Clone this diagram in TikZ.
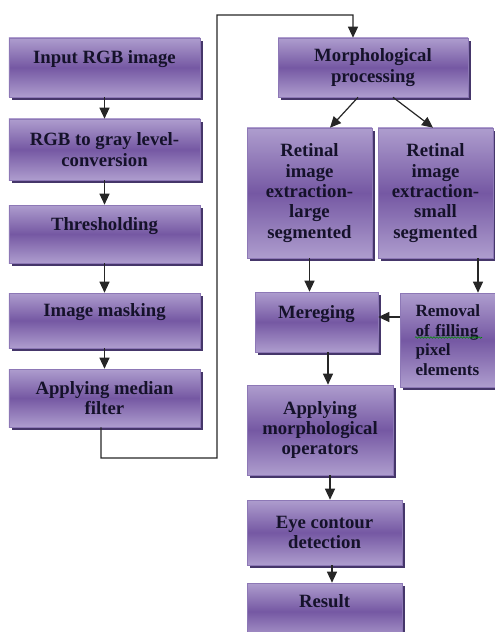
\documentclass[tikz,border=0pt]{standalone}
\usepackage{fontspec}
\setmainfont{Liberation Serif}
\usetikzlibrary{arrows.meta,shadows,decorations.pathmorphing}
\definecolor{plight}{HTML}{AE9DCE}
\definecolor{pdark}{HTML}{7558A3}
\definecolor{pshadow}{HTML}{45366A}
\definecolor{pborder}{HTML}{8D78B6}
\definecolor{txtc}{HTML}{15122A}
\begin{document}
\begin{tikzpicture}[x=1bp,y=-1bp,
  box/.style={rectangle, draw=pborder, line width=0.6bp,
    top color=plight, bottom color=plight, middle color=pdark,
    drop shadow={shadow xshift=3bp, shadow yshift=-3bp, fill=pshadow, opacity=1},
    font=\rmfamily\fontsize{18.8}{20.5}\selectfont\bfseries, text=txtc, align=center, inner sep=0pt},
  smallbox/.style={box, font=\rmfamily\fontsize{17.2}{19.5}\selectfont\bfseries, align=left, text width=66bp},
  arr/.style={draw=black!85, line width=1.2bp, -{Triangle[width=10bp,length=11bp]}},
]
\useasboundingbox (0,0) rectangle (495,632);

% left column
\node[box, minimum width=191bp, minimum height=59bp] (inp) at (104.5,67.5) {Input RGB image\\\mbox{}};
\node[box, minimum width=191bp, minimum height=61bp] (gray) at (104.5,149.5) {RGB to gray level-\\conversion};
\node[box, minimum width=191bp, minimum height=58bp] (thr) at (104.5,234) {Thresholding\\\mbox{}};
\node[box, minimum width=191bp, minimum height=55bp] (mask) at (104.5,320.5) {Image masking\\\mbox{}};
\node[box, minimum width=191bp, minimum height=58bp] (med) at (104.5,398) {Applying median\\filter};

% right part
\node[box, minimum width=190bp, minimum height=59bp] (morph) at (373,67.5) {Morphological\\processing};
\node[box, minimum width=125bp, minimum height=130bp] (large) at (309.5,193) {Retinal\\image\\extraction-\\large\\segmented};
\node[box, minimum width=115bp, minimum height=130bp] (small) at (435.5,193) {Retinal\\image\\extraction-\\small\\segmented};
\node[box, minimum width=123bp, minimum height=60bp] (merge) at (316.5,322) {Mereging\\\mbox{}};
\node[smallbox, minimum width=97bp, minimum height=94bp] (rem) at (448.5,340) {Removal\\of filling\\pixel\\elements};
\node[box, minimum width=146bp, minimum height=90bp] (apply) at (320,430) {Applying\\morphological\\operators};
\node[box, minimum width=155bp, minimum height=65bp] (eye) at (324.5,532.5) {Eye contour\\detection};
\node[box, minimum width=155bp, minimum height=57bp] (res) at (324.5,611.5) {Result\\\mbox{}};

% spell-check squiggle under "of filling"
\draw[green!55!black, line width=0.6bp, decorate, decoration={snake, amplitude=0.8bp, segment length=3bp}]
  ([xshift=-33.5bp,yshift=2.5bp]rem.center) -- ([xshift=33.5bp,yshift=2.5bp]rem.center);

% connectors
\draw[arr] (inp.south) -- (gray.north);
\draw[arr] (gray.south) -- (thr.north);
\draw[arr] (thr.south) -- (mask.north);
\draw[arr] (mask.south) -- (med.north);

\coordinate (c1) at (101,458);
\coordinate (c2) at (217,458);
\coordinate (c3) at (217,15);
\coordinate (c4) at (353,15);
\draw[arr] ([xshift=-3.5bp]med.south) -- (c1) -- (c2) -- (c3) -- (c4) -- ([xshift=-20bp]morph.north);

\draw[arr] ([xshift=-15bp]morph.south) -- ([xshift=20.5bp]large.north);
\draw[arr] ([xshift=20bp]morph.south) -- ([xshift=-2.5bp]small.north);
\draw[arr] (large.south) -- (large.south |- merge.north);
\draw[arr] ([xshift=42.5bp]small.south) -- ([xshift=42.5bp]small.south |- rem.north);
\draw[arr] ([yshift=23bp]rem.west) -- ([yshift=23bp]rem.west -| merge.east);
\draw[arr] ([xshift=11.5bp]merge.south) -- ([xshift=11.5bp]merge.south |- apply.north);
\draw[arr] ([xshift=10bp]apply.south) -- ([xshift=10bp]apply.south |- eye.north);
\draw[arr] ([xshift=7.5bp]eye.south) -- ([xshift=7.5bp]eye.south |- res.north);
\end{tikzpicture}
\end{document}
